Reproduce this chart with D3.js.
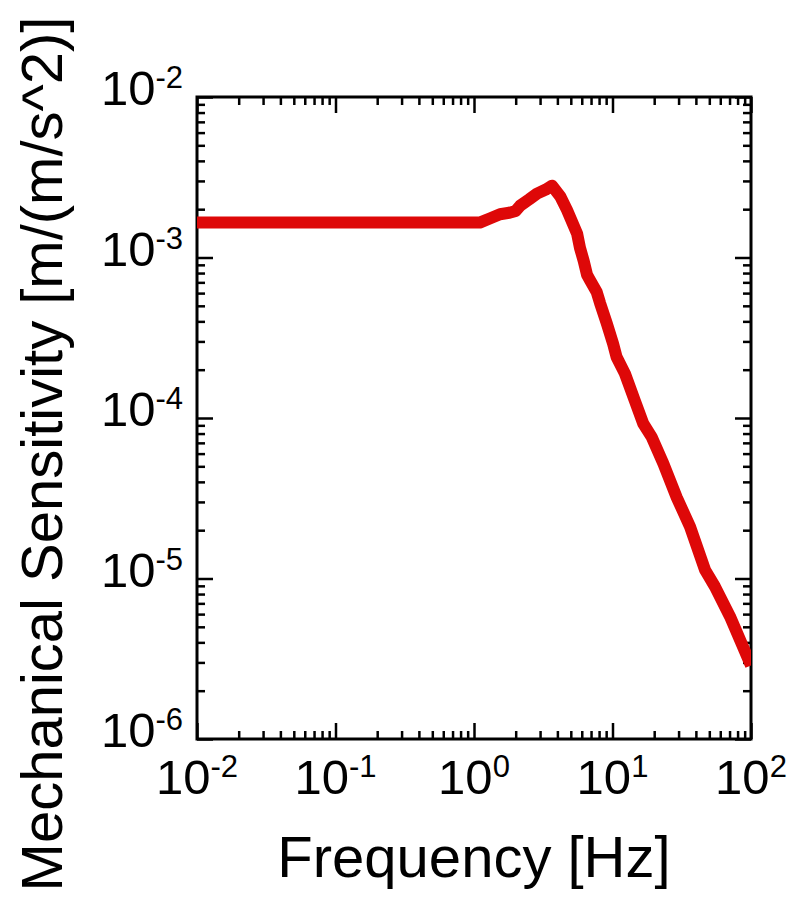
<!DOCTYPE html>
<html>
<head>
<meta charset="utf-8">
<script src="https://cdn.jsdelivr.net/npm/d3@7"></script>
<style>
  body { margin: 0; background: #fff; }
  svg { display: block; font-family: "Liberation Sans", Arial, sans-serif; }
</style>
</head>
<body>
<div id="chart"></div>
<script>
const freqHz = [0.01, 0.03, 0.1, 0.3, 1.0, 1.1, 1.3, 1.54, 1.8, 2.0, 2.15, 2.5, 2.85, 3.3, 3.66,
  4.2, 4.69, 5.55, 5.82, 6.2, 6.55, 6.89, 7.69, 8.13, 9.08, 10.1, 10.7, 12.3, 14.5,
  16.7, 19.2, 23.3, 29.1, 36.3, 46.6, 54.9, 70.5, 100];
const sensitivity = [1.65e-3, 1.65e-3, 1.65e-3, 1.65e-3, 1.65e-3, 1.65e-3, 1.75e-3, 1.86e-3, 1.9e-3, 1.95e-3,
  2.1e-3, 2.3e-3, 2.5e-3, 2.65e-3, 2.8e-3,
  2.4e-3, 1.98e-3, 1.41e-3, 1.15e-3, 9.5e-4, 7.8e-4, 7.2e-4, 6.1e-4, 5.2e-4, 3.9e-4,
  2.9e-4, 2.4e-4, 1.89e-4, 1.28e-4, 9.2e-5, 7.6e-5, 5.2e-5, 3.2e-5, 2.1e-5, 1.13e-5,
  8.9e-6, 5.8e-6, 2.87e-6];
const xTickExp = [-2, -1, 0, 1, 2];
const yTickExp = [-6, -5, -4, -3, -2];

const width = 792, height = 912;
const plotL = 197, plotR = 751, plotT = 97, plotB = 739;

const svg = d3.select('#chart').append('svg')
  .attr('width', width)
  .attr('height', height);

const x = d3.scaleLog().domain([1e-2, 1e2]).range([plotL, plotR]);
const y = d3.scaleLog().domain([1e-6, 1e-2]).range([plotB, plotT]);

// minor tick values 2..9 per decade
function minors(lo, hi) {
  const out = [];
  for (let e = lo; e < hi; e++) {
    for (let m = 2; m <= 9; m++) out.push(m * Math.pow(10, e));
  }
  return out;
}
const xMajor = xTickExp.map(e => Math.pow(10, e));
const yMajor = yTickExp.map(e => Math.pow(10, e));

function drawAxis(axisFn, scale, vals, size, tr) {
  const g = svg.append('g')
    .attr('transform', tr)
    .call(axisFn(scale).tickValues(vals).tickSize(size).tickFormat(''));
  g.select('.domain').remove();
  g.selectAll('line').attr('stroke', '#000').attr('stroke-width', 2.5);
}
// ticks point inward on all four sides
drawAxis(d3.axisBottom, x, xMajor, -16, `translate(0,${plotB})`);
drawAxis(d3.axisBottom, x, minors(-2, 2), -8, `translate(0,${plotB})`);
drawAxis(d3.axisTop, x, xMajor, -16, `translate(0,${plotT})`);
drawAxis(d3.axisTop, x, minors(-2, 2), -8, `translate(0,${plotT})`);
drawAxis(d3.axisLeft, y, yMajor, -16, `translate(${plotL},0)`);
drawAxis(d3.axisLeft, y, minors(-6, -2), -8, `translate(${plotL},0)`);
drawAxis(d3.axisRight, y, yMajor, -16, `translate(${plotR},0)`);
drawAxis(d3.axisRight, y, minors(-6, -2), -8, `translate(${plotR},0)`);

// frame
svg.append('rect')
  .attr('x', plotL).attr('y', plotT)
  .attr('width', plotR - plotL).attr('height', plotB - plotT)
  .attr('fill', 'none').attr('stroke', '#000').attr('stroke-width', 3);

// data line
svg.append('clipPath').attr('id', 'clip')
  .append('rect').attr('x', plotL).attr('y', plotT)
  .attr('width', plotR - plotL).attr('height', plotB - plotT);

const line = d3.line()
  .x((d, i) => x(freqHz[i]))
  .y(d => y(d));

svg.append('path')
  .datum(sensitivity)
  .attr('clip-path', 'url(#clip)')
  .attr('d', line)
  .attr('fill', 'none')
  .attr('stroke', '#de0808')
  .attr('stroke-width', 12)
  .attr('stroke-linejoin', 'round');

// tick labels: 10 with superscript exponent
function powLabel(sel, e) {
  sel.append('tspan').text('10');
  sel.append('tspan').attr('font-size', 31).attr('dy', -17).text(e);
}
xTickExp.forEach(e => {
  const t = svg.append('text')
    .attr('x', x(Math.pow(10, e)))
    .attr('y', 794)
    .attr('text-anchor', 'middle')
    .attr('font-size', 49);
  powLabel(t, e);
});
yTickExp.forEach(e => {
  const t = svg.append('text')
    .attr('x', 183)
    .attr('y', y(Math.pow(10, e)) + 8)
    .attr('text-anchor', 'end')
    .attr('font-size', 49);
  powLabel(t, e);
});

// axis titles
svg.append('text')
  .attr('x', (plotL + plotR) / 2)
  .attr('y', 877)
  .attr('text-anchor', 'middle')
  .attr('font-size', 58)
  .text('Frequency [Hz]');

svg.append('text')
  .attr('transform', 'translate(62,454) rotate(-90)')
  .attr('text-anchor', 'middle')
  .attr('font-size', 58)
  .text('Mechanical Sensitivity [m/(m/s^2)]');
</script>
</body>
</html>
